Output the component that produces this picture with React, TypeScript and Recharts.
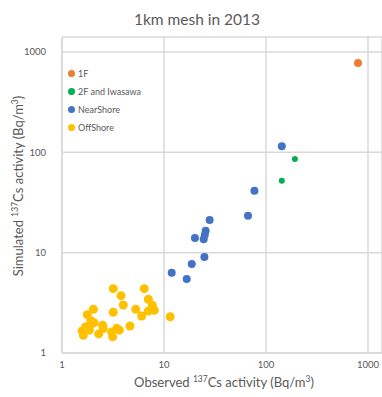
import React from 'react';
import { ScatterChart, Scatter, XAxis, YAxis, CartesianGrid } from 'recharts';

const seriesNames = ['1F', '2F and Iwasawa', 'NearShore', 'OffShore'];
const seriesColors = ['#ED7D31', '#00B050', '#4472C4', '#FFC000'];
const dotRadius = [4, 3, 4, 4.5];

const f1 = [{ x: 798, y: 778 }];

const f2Iwasawa = [
  { x: 192, y: 86 },
  { x: 143, y: 52 },
];

const nearShore = [
  { x: 143, y: 115 },
  { x: 77, y: 41.5 },
  { x: 66.6, y: 23.4 },
  { x: 28, y: 21.2 },
  { x: 25.6, y: 16.5 },
  { x: 25.1, y: 15 },
  { x: 24.5, y: 13.6 },
  { x: 20.1, y: 14 },
  { x: 24.9, y: 9.06 },
  { x: 18.7, y: 7.7 },
  { x: 16.7, y: 5.47 },
  { x: 11.9, y: 6.3 },
];

const offShore = [
  { x: 3.18, y: 4.38 },
  { x: 6.41, y: 4.38 },
  { x: 3.79, y: 3.73 },
  { x: 3.99, y: 3.01 },
  { x: 7.02, y: 3.43 },
  { x: 7.68, y: 2.99 },
  { x: 8.05, y: 2.67 },
  { x: 7.02, y: 2.62 },
  { x: 5.28, y: 2.73 },
  { x: 6.04, y: 2.34 },
  { x: 11.5, y: 2.3 },
  { x: 3.18, y: 2.55 },
  { x: 2.03, y: 2.73 },
  { x: 1.77, y: 2.41 },
  { x: 1.92, y: 2.1 },
  { x: 2.06, y: 2.0 },
  { x: 1.71, y: 1.83 },
  { x: 1.58, y: 1.67 },
  { x: 1.62, y: 1.5 },
  { x: 1.85, y: 1.69 },
  { x: 1.88, y: 1.86 },
  { x: 2.29, y: 1.55 },
  { x: 2.5, y: 1.89 },
  { x: 2.54, y: 1.75 },
  { x: 3.07, y: 1.62 },
  { x: 3.14, y: 1.45 },
  { x: 3.44, y: 1.76 },
  { x: 3.65, y: 1.69 },
  { x: 4.64, y: 1.86 },
];

const logTicks = [1, 10, 100, 1000];
const xMax = 1372;
const yMax = 1413;

const font = 'Lato, "Open Sans", sans-serif';
const grey = '#595959';
const lineGrey = '#d9d9d9';

const dot = (color, r) => (props) => (
  <circle cx={props.cx} cy={props.cy} r={r} fill={color} />
);

// legend is an overlay so it doesn't eat plot space
const LegendBox = () => (
  <div style={{ position: 'absolute', left: 68, top: 64, fontFamily: font, fontSize: 9, color: grey }}>
    {seriesNames.map((name, i) => (
      <div key={name} style={{ display: 'flex', alignItems: 'center', height: 18 }}>
        <span
          style={{
            width: 7,
            height: 7,
            borderRadius: '50%',
            background: seriesColors[i],
            marginRight: 3,
            display: 'inline-block',
          }}
        />
        {name}
      </div>
    ))}
  </div>
);

export default function App() {
  const all = [f1, f2Iwasawa, nearShore, offShore];
  return (
    <div style={{ position: 'absolute', left: 0, top: 0, width: 382, height: 397, background: '#fff' }}>
      <ScatterChart width={382} height={397} margin={{ top: 37, right: 0, bottom: 0, left: 0 }}>
        <CartesianGrid stroke={lineGrey} strokeWidth={1.5} horizontal vertical />
        <XAxis
          type="number"
          dataKey="x"
          scale="log"
          domain={[1, xMax]}
          ticks={logTicks}
          allowDataOverflow
          height={44}
          tickLine={false}
          axisLine={{ stroke: lineGrey, strokeWidth: 1.5 }}
          tick={{ fontSize: 9.5, fill: grey, fontFamily: font }}
        />
        <YAxis
          type="number"
          dataKey="y"
          scale="log"
          domain={[1, yMax]}
          ticks={logTicks}
          allowDataOverflow
          width={62}
          tickLine={false}
          tickMargin={10}
          axisLine={{ stroke: lineGrey, strokeWidth: 1.5 }}
          tick={{ fontSize: 9.5, fill: grey, fontFamily: font }}
        />
        {all.map((data, i) => (
          <Scatter
            key={seriesNames[i]}
            name={seriesNames[i]}
            data={data}
            fill={seriesColors[i]}
            shape={dot(seriesColors[i], dotRadius[i])}
            isAnimationActive={false}
          />
        ))}
        <text x={197} y={25} textAnchor="middle" fontSize={15.5} fill={grey} fontFamily={font}>
          1km mesh in 2013
        </text>
        <text x={224} y={387} textAnchor="middle" fontSize={13} fill={grey} fontFamily={font}>
          Observed <tspan fontSize={8.5} dy={-5}>137</tspan>
          <tspan dy={5}>Cs activity (Bq/m</tspan>
          <tspan fontSize={8.5} dy={-5}>3</tspan>
          <tspan dy={5}>)</tspan>
        </text>
        <text
          x={0}
          y={0}
          transform="translate(23,186) rotate(-90)"
          textAnchor="middle"
          fontSize={13}
          fill={grey}
          fontFamily={font}
        >
          Simulated <tspan fontSize={8.5} dy={-5}>137</tspan>
          <tspan dy={5}>Cs activity (Bq/m</tspan>
          <tspan fontSize={8.5} dy={-5}>3</tspan>
          <tspan dy={5}>)</tspan>
        </text>
      </ScatterChart>
      <LegendBox />
    </div>
  );
}
